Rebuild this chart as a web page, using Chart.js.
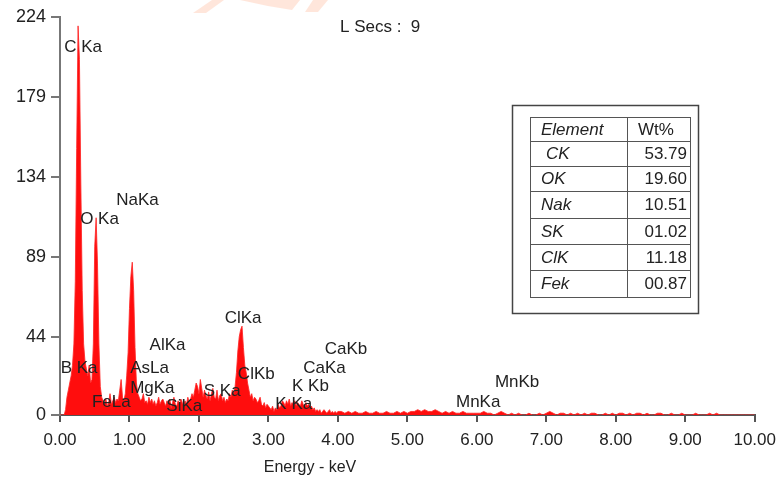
<!DOCTYPE html>
<html>
<head>
<meta charset="utf-8">
<script src="https://cdn.jsdelivr.net/npm/chart.js@4/dist/chart.umd.min.js"></script>
<style>
  html, body { margin: 0; padding: 0; background: #fff; }
  #wrap { width: 784px; height: 484px; }
</style>
</head>
<body>
<div id="wrap"><canvas id="myChart" width="784" height="484"></canvas></div>
<script>
// spectrum counts, 0.00 - 4.00 keV, one channel every 0.02 keV
const lowStartKeV = 0;
const lowStepKeV = 0.02;
const lowCounts = [
    0, 0, 0, 0, 3, 10, 14, 18, 22, 28,
    40, 75, 150, 219, 200, 130, 70, 40, 30, 26,
    22, 28, 18, 20, 40, 95, 111, 85, 40, 16,
    10, 8, 6, 9, 5, 7, 12, 6, 8, 10,
    7, 9, 8, 14, 20, 10, 8, 12, 22, 35,
    60, 78, 86, 70, 38, 18, 12, 10, 8, 9,
    12, 7, 8, 6, 10, 7, 9, 6, 8, 5,
    7, 10, 6, 8, 9, 7, 5, 8, 6, 9,
    4, 7, 10, 6, 5, 8, 6, 9, 7, 5,
    8, 6, 10, 7, 9, 12, 10, 14, 18, 16,
    12, 20, 15, 10, 14, 11, 9, 13, 8, 12,
    15, 10, 9, 14, 8, 11, 12, 8, 10, 7,
    9, 8, 12, 10, 14, 12, 16, 24, 36, 44,
    48, 50, 38, 28, 24, 18, 14, 10, 12, 8,
    10, 9, 7, 8, 10, 6, 5, 7, 4, 6,
    5, 4, 3, 5, 2, 4, 3, 6, 4, 5,
    8, 7, 5, 8, 6, 9, 5, 7, 6, 8,
    5, 7, 6, 5, 8, 6, 4, 7, 5, 6,
    4, 5, 3, 4, 2, 3, 2, 3, 1, 2,
    3, 2, 1, 2, 3, 1, 2, 1, 2, 1,
    2
];

// spectrum counts, 4.05 - 10.00 keV, one value every 0.05 keV
const highStartKeV = 4.05;
const highStepKeV = 0.05;
const highCounts = [
    2, 1, 2, 1, 2, 1, 1, 2, 1, 1,
    2, 1, 1, 2, 1, 1, 2, 1, 2, 1,
    2, 2, 3, 2, 3, 2, 2, 3, 2, 1,
    2, 1, 2, 1, 1, 2, 1, 1, 1, 1,
    1, 2, 1, 1, 0, 1, 2, 1, 0, 1,
    0, 1, 0, 0, 1, 0, 0, 1, 0, 1,
    2, 1, 0, 1, 1, 0, 1, 0, 1, 0,
    1, 0, 1, 1, 0, 0, 1, 0, 1, 0,
    1, 1, 0, 1, 0, 1, 1, 0, 1, 0,
    0, 1, 1, 0, 0, 1, 0, 0, 1, 0,
    0, 0, 1, 0, 0, 0, 1, 0, 1, 0,
    0, 0, 0, 0, 0, 0, 0, 0, 0, 0
];

const yTickValues = [0, 44, 89, 134, 179, 224];

// peak labels: name, left edge (keV), middle (counts)
const peakNames = ['C Ka', 'O Ka', 'NaKa', 'B Ka', 'FeLa', 'AlKa', 'AsLa', 'MgKa', 'SiKa',
    'S Ka', 'ClKa', 'ClKb', 'K Ka', 'K Kb', 'CaKa', 'CaKb', 'MnKa', 'MnKb'];
const peakLabelKeV = [0.06, 0.29, 0.81, 0.01, 0.46, 1.29, 1.01, 1.01, 1.53,
    2.07, 2.37, 2.56, 3.10, 3.34, 3.50, 3.81, 5.70, 6.26];
const peakLabelCounts = [207, 110, 121, 26, 7, 39, 26, 15, 5,
    13.5, 54.5, 23, 6, 16, 26, 37, 7, 18.5];

const tableElements = ['CK', 'OK', 'Nak', 'SK', 'ClK', 'Fek'];
const tableWt = ['53.79', '19.60', '10.51', '01.02', '11.18', '00.87'];

const FONT = '"Liberation Sans", Arial, sans-serif';

function buildPoints() {
    const pts = [];
    lowCounts.forEach((c, i) => pts.push({ x: +(lowStartKeV + i * lowStepKeV).toFixed(2), y: c }));
    highCounts.forEach((c, i) => pts.push({ x: +(highStartKeV + i * highStepKeV).toFixed(2), y: c }));
    return pts;
}

const decorPlugin = {
    id: 'decor',
    beforeDraw(chart) {
        const ctx = chart.ctx;
        ctx.save();
        // faint watermark pieces at the top edge
        ctx.fillStyle = 'rgba(255, 200, 175, 0.45)';
        ctx.beginPath();
        ctx.moveTo(212, 0); ctx.lineTo(224, 0); ctx.lineTo(206, 13); ctx.lineTo(193, 13);
        ctx.closePath(); ctx.fill();
        ctx.beginPath();
        ctx.moveTo(240, 0); ctx.lineTo(300, 0); ctx.lineTo(292, 10);
        ctx.quadraticCurveTo(265, 6, 240, 0);
        ctx.closePath(); ctx.fill();
        ctx.beginPath();
        ctx.moveTo(313, 0); ctx.lineTo(328, 0); ctx.lineTo(318, 12); ctx.lineTo(305, 12);
        ctx.closePath(); ctx.fill();
        ctx.restore();
    },
    afterDraw(chart) {
        const ctx = chart.ctx;
        const xs = chart.scales.x, ys = chart.scales.y;
        ctx.save();
        ctx.fillStyle = '#222';
        ctx.font = '17px ' + FONT;
        ctx.textBaseline = 'middle';
        ctx.textAlign = 'left';
        peakNames.forEach((name, i) => {
            ctx.fillText(name, xs.getPixelForValue(peakLabelKeV[i]), ys.getPixelForValue(peakLabelCounts[i]));
        });

        // header text and axis title
        ctx.fillText('L Secs :  9', 340, 27);
        ctx.textAlign = 'center';
        ctx.font = '16px ' + FONT;
        ctx.fillText('Energy - keV', chart.chartArea.left + 250, 468);

        // element table
        ctx.strokeStyle = '#444';
        ctx.lineWidth = 1.5;
        ctx.strokeRect(512.5, 105.5, 186, 208);
        ctx.lineWidth = 1;
        ctx.strokeStyle = '#555';
        const rowY = [117, 141, 166, 191, 218, 244, 270, 297];
        ctx.strokeRect(530.5, 117.5, 160, 180);
        rowY.slice(1, -1).forEach(y => {
            ctx.beginPath(); ctx.moveTo(530, y + 0.5); ctx.lineTo(691, y + 0.5); ctx.stroke();
        });
        ctx.beginPath(); ctx.moveTo(627.5, 117); ctx.lineTo(627.5, 297); ctx.stroke();

        ctx.textAlign = 'left';
        ctx.font = 'italic 17px ' + FONT;
        ctx.fillText('Element', 541, (rowY[0] + rowY[1]) / 2 + 1);
        ctx.font = '17px ' + FONT;
        ctx.fillText('Wt%', 638, (rowY[0] + rowY[1]) / 2 + 1);
        tableElements.forEach((el, i) => {
            const cy = (rowY[i + 1] + rowY[i + 2]) / 2 + 1;
            ctx.textAlign = 'left';
            ctx.font = 'italic 17px ' + FONT;
            ctx.fillText(el, i === 0 ? 546 : 541, cy);
            ctx.textAlign = 'right';
            ctx.font = '17px ' + FONT;
            ctx.fillText(tableWt[i], 687, cy);
        });
        ctx.restore();
    }
};

function buildChart() {
    const config = {
        type: 'line',
        data: {
            datasets: [{
                label: 'Counts',
                data: buildPoints(),
                borderColor: 'rgba(255, 40, 40, 0.85)',
                backgroundColor: '#ff0d0d',
                borderWidth: 1,
                fill: 'origin',
                pointRadius: 0,
                tension: 0
            }]
        },
        options: {
            responsive: false,
            animation: false,
            layout: { padding: { top: 17, right: 24, left: 0, bottom: 0 } },
            plugins: {
                legend: { display: false },
                tooltip: { enabled: false }
            },
            scales: {
                x: {
                    type: 'linear',
                    min: 0,
                    max: 10,
                    afterFit: s => { s.height = 69; },
                    ticks: {
                        stepSize: 1,
                        padding: 8,
                        color: '#222',
                        font: { family: FONT, size: 17 },
                        maxRotation: 0,
                        callback: v => Number(v).toFixed(2)
                    },
                    grid: { drawOnChartArea: false, drawTicks: true, tickLength: 7, color: '#555', lineWidth: 2 },
                    border: { display: true, color: '#555', width: 2 }
                },
                y: {
                    type: 'linear',
                    min: 0,
                    max: 224,
                    afterFit: s => { s.width = 60; },
                    afterBuildTicks: s => { s.ticks = yTickValues.map(v => ({ value: v })); },
                    ticks: {
                        padding: 5,
                        color: '#222',
                        font: { family: FONT, size: 18 },
                        callback: v => String(v)
                    },
                    grid: { drawOnChartArea: false, drawTicks: true, tickLength: 9, color: '#777', lineWidth: 2 },
                    border: { display: true, color: '#777', width: 2 }
                }
            }
        },
        plugins: [decorPlugin]
    };

    new Chart(document.getElementById('myChart').getContext('2d'), config);
}

buildChart();
</script>
</body>
</html>
